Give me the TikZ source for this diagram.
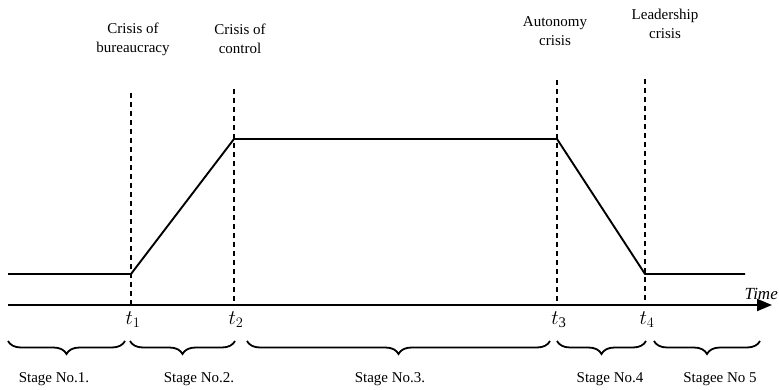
\documentclass[tikz,border=0pt]{standalone}
\usepackage{fontspec}
\setmainfont{Liberation Serif}
\usetikzlibrary{decorations.pathreplacing,arrows.meta}
\begin{document}
\begin{tikzpicture}[x=1pt,y=-1pt,
  curve/.style={line width=1.9pt},
  guide/.style={line width=2pt,dash pattern=on 5pt off 4pt},
  lbl/.style={font=\fontsize{15}{19}\selectfont,align=center,inner sep=0pt},
  tlbl/.style={font=\fontsize{21}{24}\selectfont,inner sep=0pt},
  brc/.style={line width=1.8pt,decorate,decoration={brace,mirror,amplitude=13pt,aspect=0.5}}]
\useasboundingbox (0,0) rectangle (779,390);
% key points
\coordinate (a0) at (8,274);
\coordinate (t1l) at (131,274);
\coordinate (t2h) at (234,139);
\coordinate (t3h) at (557,139);
\coordinate (t4l) at (645,274);
\coordinate (a5) at (745,274);
\coordinate (ax0) at (8,305);
\coordinate (ax1) at (772,305);
% dashed guides
\coordinate (g1t) at (131,93); \coordinate (g1b) at (131,305);
\coordinate (g2t) at (234,89); \coordinate (g2b) at (234,305);
\coordinate (g3t) at (557,80); \coordinate (g3b) at (557,305);
\coordinate (g4t) at (645,79); \coordinate (g4b) at (645,305);
\draw[guide] (g1t) -- (g1b);
\draw[guide] (g2t) -- (g2b);
\draw[guide] (g3t) -- (g3b);
\draw[guide] (g4t) -- (g4b);
% curve
\draw[curve,line join=round] (a0) -- (t1l) -- (t2h) -- (t3h) -- (t4l) -- (a5);
% axis
\node[lbl,anchor=base east,font=\fontsize{17}{20}\selectfont\itshape] (time) at (778,299) {Time};
\draw[line width=2pt,-{Triangle[length=15pt,width=12pt]}] (ax0) -- (ax1);
% t labels
\node[tlbl] (t1) at (133,320) {$t_1$};
\node[tlbl] (t2) at (236,320) {$t_2$};
\node[tlbl] (t3) at (559,320) {$t_{\mathrm{3}}$};
\node[tlbl] (t4) at (647,320) {$t_4$};
% crisis labels
\node[lbl] (c1) at (133,39) {Crisis of\\bureaucracy};
\node[lbl] (c2) at (240,39) {Crisis of\\control};
\node[lbl] (c3) at (555,31) {Autonomy\\crisis};
\node[lbl] (c4) at (665,24) {Leadership\\crisis};
% braces
\coordinate (b1a) at (8,341); \coordinate (b1b) at (125,341);
\coordinate (b2a) at (130,341); \coordinate (b2b) at (235,341);
\coordinate (b3a) at (247,341); \coordinate (b3b) at (550,341);
\coordinate (b4a) at (557,341); \coordinate (b4b) at (646,341);
\coordinate (b5a) at (654,341); \coordinate (b5b) at (760,341);
\draw[brc] (b1a) -- (b1b);
\draw[brc] (b2a) -- (b2b);
\draw[brc] (b3a) -- (b3b);
\draw[brc] (b4a) -- (b4b);
\draw[brc] (b5a) -- (b5b);
% stage labels
\node[lbl] (s1) at (54,379) {Stage No.1.};
\node[lbl] (s2) at (199,379) {Stage No.2.};
\node[lbl] (s3) at (390,379) {Stage No.3.};
\node[lbl] (s4) at (610,379) {Stage No.4};
\node[lbl] (s5) at (720,379) {Stagee No 5};
\end{tikzpicture}
\end{document}
